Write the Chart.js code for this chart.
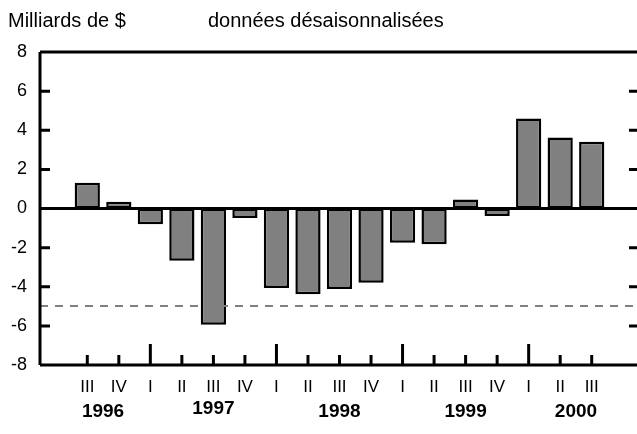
<!DOCTYPE html>
<html>
<head>
<meta charset="utf-8">
<script src="https://cdn.jsdelivr.net/npm/chart.js@4"></script>
<style>
  html, body { margin: 0; padding: 0; background: #fff; overflow: hidden; }
  #wrap { width: 645px; height: 434px; position: relative; }
</style>
</head>
<body>
<div id="wrap"><canvas id="c"></canvas></div>
<script>
// ---- data ----
const categories = ['', 'III', 'IV', 'I', 'II', 'III', 'IV', 'I', 'II', 'III', 'IV', 'I', 'II', 'III', 'IV', 'I', 'II', 'III', ''];
const values = [null, 1.32, 0.34, -0.8, -2.67, -5.94, -0.48, -4.06, -4.38, -4.11, -3.79, -1.75, -1.83, 0.46, -0.38, 4.6, 3.63, 3.41, null];
const years = ['1996', '1997', '1998', '1999', '2000'];
const yearAnchors = [1.5, 5, 9, 13, 16.5];
const yTicks = [8, 6, 4, 2, 0, -2, -4, -6, -8];
const refLevel = -5;
const unitLabel = 'Milliards de $';
const noteLabel = 'données désaisonnalisées';

const FONT = '"Liberation Sans", Arial, sans-serif';

const decor = {
  id: 'decor',
  afterDraw(chart) {
    const ctx = chart.ctx;
    const a = chart.chartArea;
    const x = chart.scales.x, y = chart.scales.y;
    ctx.save();
    // dashed reference line
    ctx.strokeStyle = '#808080';
    ctx.lineWidth = 2;
    ctx.setLineDash([8, 7]);
    ctx.beginPath();
    const yr = Math.round(y.getPixelForValue(refLevel));
    ctx.moveTo(a.left, yr); ctx.lineTo(a.right, yr);
    ctx.stroke();
    ctx.setLineDash([]);
    // zero line
    ctx.strokeStyle = '#000';
    ctx.lineWidth = 3;
    const y0 = y.getPixelForValue(0);
    ctx.beginPath(); ctx.moveTo(a.left, y0); ctx.lineTo(a.right, y0); ctx.stroke();
    // frame: top, left, bottom
    ctx.beginPath();
    ctx.moveTo(a.left, a.top); ctx.lineTo(a.right, a.top);
    ctx.moveTo(a.left, a.top); ctx.lineTo(a.left, a.bottom);
    ctx.moveTo(a.left, a.bottom); ctx.lineTo(a.right, a.bottom);
    ctx.stroke();
    // inward y ticks on both sides
    yTicks.forEach(v => {
      if (v === 0 || v === 8 || v === -8) return;
      const py = y.getPixelForValue(v);
      ctx.beginPath();
      ctx.moveTo(a.left, py); ctx.lineTo(a.left + 10, py);
      ctx.moveTo(a.right, py); ctx.lineTo(a.right - 10, py);
      ctx.stroke();
    });
    // inward x ticks
    categories.forEach((c, i) => {
      if (!c) return;
      const px = x.getPixelForValue(i);
      const len = c === 'I' ? 21 : 10;
      ctx.beginPath();
      ctx.moveTo(px, a.bottom); ctx.lineTo(px, a.bottom - len);
      ctx.stroke();
    });
    // year labels
    ctx.fillStyle = '#000';
    ctx.font = 'bold 19px ' + FONT;
    ctx.textAlign = 'center';
    ctx.textBaseline = 'middle';
    years.forEach((t, i) => {
      ctx.fillText(t, x.getPixelForValue(yearAnchors[i]), a.bottom + 47 - (t === '1997' ? 3 : 0));
    });
    // header texts
    ctx.font = '20px ' + FONT;
    ctx.textAlign = 'left';
    ctx.fillText(unitLabel, 8, 21);
    ctx.fillText(noteLabel, 208, 21);
    ctx.restore();
  }
};

new Chart(document.getElementById('c'), {
  type: 'bar',
  data: {
    labels: categories,
    datasets: [{
      data: values,
      backgroundColor: '#808080',
      borderColor: '#000',
      borderWidth: 2.5,
      borderSkipped: false,
      barPercentage: 0.8,
      categoryPercentage: 1.0
    }]
  },
  options: {
    responsive: true,
    maintainAspectRatio: false,
    animation: false,
    devicePixelRatio: 1,
    layout: { padding: { top: 52, right: 6, left: 0, bottom: 0 } },
    plugins: { legend: { display: false }, tooltip: { enabled: false }, title: { display: false } },
    scales: {
      x: {
        grid: { display: false, drawTicks: false },
        border: { display: false },
        ticks: {
          autoSkip: false, maxRotation: 0, padding: 12,
          color: '#000', font: { family: FONT, size: 17 }
        },
        afterFit(s) { s.height = 69; }
      },
      y: {
        min: -8, max: 8,
        grid: { display: false, drawTicks: false },
        border: { display: false },
        afterBuildTicks(s) { s.ticks = yTicks.map(v => ({ value: v })); },
        ticks: {
          padding: 13, color: '#000', font: { family: FONT, size: 18 }
        },
        afterFit(s) { s.width = 40; }
      }
    }
  },
  plugins: [decor]
});
</script>
</body>
</html>
